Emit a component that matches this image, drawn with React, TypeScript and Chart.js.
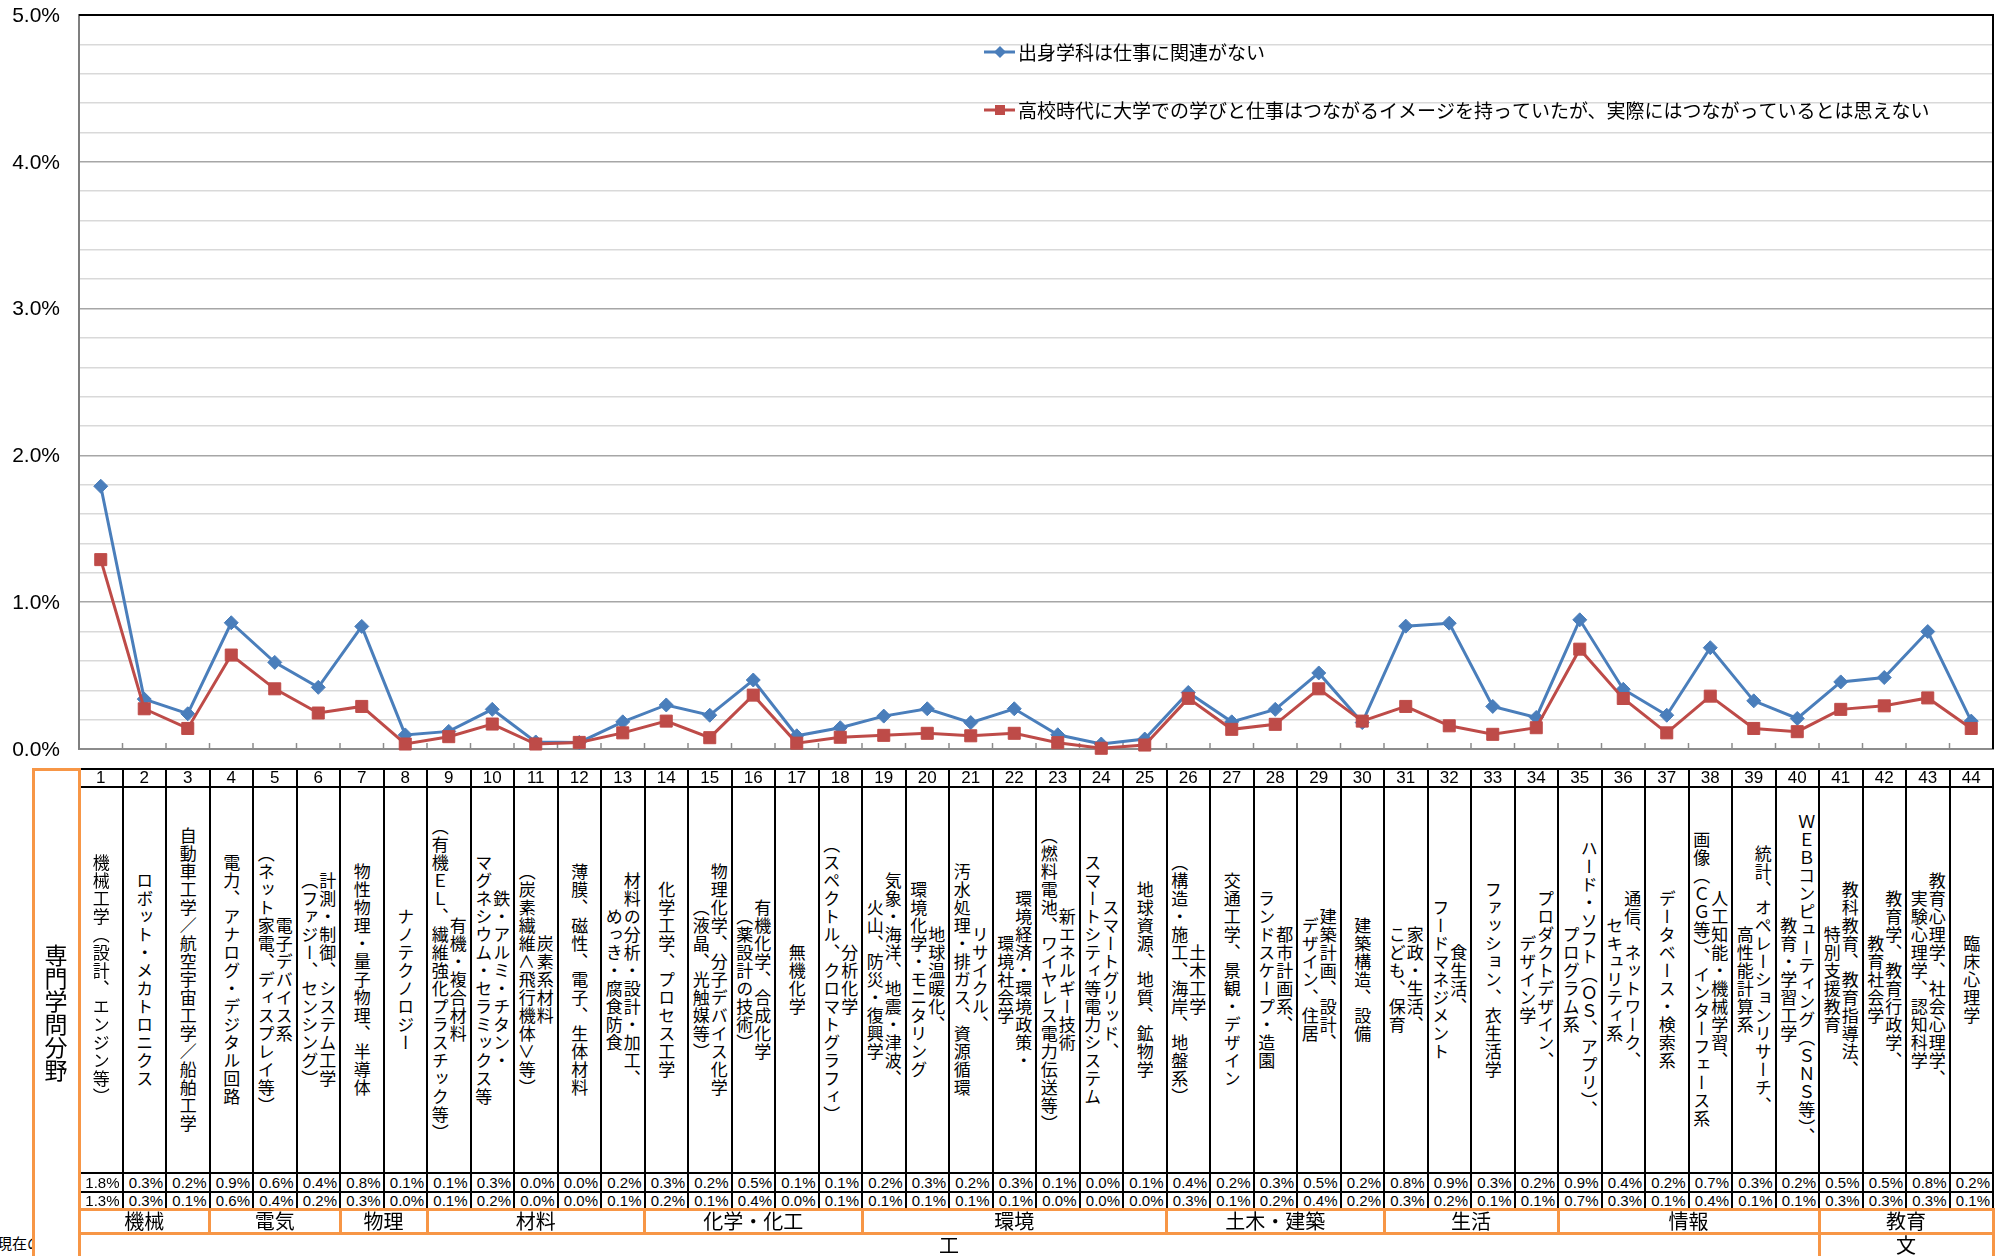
import React, { useEffect, useRef } from 'react';
import { Chart, registerables } from 'chart.js';

Chart.register(...registerables);

// ---------------- DATA ----------------
const categories = [
  '1', '2', '3', '4', '5', '6', '7', '8', '9', '10', '11', '12', '13', '14', '15', '16', '17', '18', '19', '20', '21', '22',
  '23', '24', '25', '26', '27', '28', '29', '30', '31', '32', '33', '34', '35', '36', '37', '38', '39', '40', '41', '42', '43', '44',
];

const fieldLabels = [
  '機械工学（設計、エンジン等）',
  'ロボット・メカトロニクス',
  '自動車工学／航空宇宙工学／船舶工学',
  '電力、アナログ・デジタル回路',
  '電子デバイス系\n（ネット家電、ディスプレイ等）',
  '計測・制御、システム工学\n（ファジー、センシング）',
  '物性物理・量子物理、半導体',
  'ナノテクノロジー',
  '有機・複合材料\n（有機ＥＬ、繊維強化プラスチック等）',
  '鉄・アルミ・チタン・\nマグネシウム・セラミックス等',
  '炭素系材料\n（炭素繊維＜飛行機体＞等）',
  '薄膜、磁性、電子、生体材料',
  '材料の分析・設計・加工、\nめっき・腐食防食',
  '化学工学、プロセス工学',
  '物理化学、分子デバイス化学\n（液晶、光触媒等）',
  '有機化学、合成化学\n（薬設計の技術）',
  '無機化学',
  '分析化学\n（スペクトル、クロマトグラフィ）',
  '気象・海洋、地震・津波、\n火山、防災・復興学',
  '地球温暖化、\n環境化学・モニタリング',
  'リサイクル、\n汚水処理・排ガス、資源循環',
  '環境経済・環境政策・\n環境社会学',
  '新エネルギー技術\n（燃料電池、ワイヤレス電力伝送等）',
  'スマートグリッド、\nスマートシティ等電力システム',
  '地球資源、地質、鉱物学',
  '土木工学\n（構造・施工、海岸、地盤系）',
  '交通工学、景観・デザイン',
  '都市計画系、\nランドスケープ・造園',
  '建築計画、設計、\nデザイン、住居',
  '建築構造、設備',
  '家政・生活、\nこども、保育',
  '食生活、\nフードマネジメント',
  'ファッション、衣生活学',
  'プロダクトデザイン、\nデザイン学',
  'ハード・ソフト（ＯＳ、アプリ）、\nプログラム系',
  '通信、ネットワーク、\nセキュリティ系',
  'データベース・検索系',
  '人工知能・機械学習、\n画像（ＣＧ等）、インターフェース系',
  '統計、オペレーションリサーチ、\n高性能計算系',
  'ＷＥＢコンピューティング（ＳＮＳ等）、\n教育・学習工学',
  '教科教育、教育指導法、\n特別支援教育',
  '教育学、教育行政学、\n教育社会学',
  '教育心理学、社会心理学、\n実験心理学、認知科学',
  '臨床心理学',
];

// 出身学科は仕事に関連がない (%)
const seriesNoRelation = [
  1.79, 0.34, 0.24, 0.86, 0.59, 0.42, 0.835, 0.096, 0.12, 0.27, 0.048, 0.045, 0.185, 0.30, 0.23, 0.47, 0.09, 0.145, 0.224, 0.274, 0.18, 0.274,
  0.097, 0.034, 0.068, 0.385, 0.185, 0.27, 0.518, 0.18, 0.837, 0.857, 0.29, 0.215, 0.88, 0.407, 0.23, 0.69, 0.328, 0.208, 0.457, 0.487, 0.80, 0.19,
];

// 高校時代に…実際にはつながっているとは思えない (%)
const seriesNoLink = [
  1.29, 0.274, 0.14, 0.64, 0.41, 0.245, 0.29, 0.034, 0.084, 0.17, 0.034, 0.045, 0.11, 0.19, 0.077, 0.367, 0.04, 0.08, 0.093, 0.107, 0.09, 0.107,
  0.043, 0.005, 0.027, 0.345, 0.134, 0.168, 0.41, 0.19, 0.29, 0.158, 0.10, 0.145, 0.68, 0.344, 0.11, 0.36, 0.14, 0.118, 0.27, 0.294, 0.348, 0.14,
];

const legendLabels = [
  '出身学科は仕事に関連がない',
  '高校時代に大学での学びと仕事はつながるイメージを持っていたが、実際にはつながっているとは思えない',
];

const groupLabels = ['機械', '電気', '物理', '材料', '化学・化工', '環境', '土木・建築', '生活', '情報', '教育'];
const groupSpans = [3, 3, 2, 5, 5, 7, 5, 4, 6, 4];
const facultyLabels = ['工', '文'];
const facultySpans = [40, 4];

const yMin = 0;
const yMax = 5;
const yStep = 0.2;
const yLabelValues = [0, 1, 2, 3, 4, 5];

// ---------------- STYLE / LAYOUT ----------------
const BLUE = '#4A7EBB';
const RED = '#BE4B48';
const ORANGE = '#F79646';
const W = 2003;
const H = 1256;
const CANVAS_H = 770;
const PLOT_LEFT = 79;
const PLOT_RIGHT = 1993;
const PLOT_TOP = 15;
const PLOT_BOTTOM = 749;
const COL_W = (PLOT_RIGHT - PLOT_LEFT) / categories.length;

const ROW_TOP = 769;
const NUM_BOTTOM = 787;
const TEXT_BOTTOM = 1173;
const BLUE_BOTTOM = 1192;
const RED_BOTTOM = 1209;
const GROUP_BOTTOM = 1233;

const CJK = '"Noto Sans CJK JP", "Noto Sans CJK SC", sans-serif';
const LATIN = '"Liberation Sans", Arial, sans-serif';

const isMajor = (v: number) => Math.abs(v - Math.round(v)) < 1e-6;

const framePlugin = {
  id: 'frameAndTicks',
  beforeDatasetsDraw(chart: any) {
    const { ctx, chartArea } = chart;
    const xs = chart.scales.x;
    const ys = chart.scales.y;
    ctx.save();
    // inner tick marks on category axis
    ctx.strokeStyle = '#8c8c8c';
    ctx.lineWidth = 1.5;
    for (let i = 1; i < categories.length; i++) {
      const x = (xs.getPixelForValue(i - 1) + xs.getPixelForValue(i)) / 2;
      ctx.beginPath();
      ctx.moveTo(x, chartArea.bottom - 6);
      ctx.lineTo(x, chartArea.bottom);
      ctx.stroke();
    }
    // top and right border
    ctx.strokeStyle = '#000';
    ctx.lineWidth = 2;
    ctx.beginPath();
    ctx.moveTo(chartArea.left, chartArea.top);
    ctx.lineTo(chartArea.right, chartArea.top);
    ctx.lineTo(chartArea.right, chartArea.bottom);
    ctx.stroke();
    // y labels
    ctx.fillStyle = '#000';
    ctx.font = `21px ${LATIN}`;
    ctx.textAlign = 'right';
    ctx.textBaseline = 'middle';
    yLabelValues.forEach((v) => {
      ctx.fillText(v.toFixed(1) + '%', chartArea.left - 19, ys.getPixelForValue(v) + 1);
    });
    ctx.restore();
  },
  afterDraw(chart: any) {
    const { ctx } = chart;
    const items = [
      { y: 52, color: BLUE, style: 'diamond', label: legendLabels[0] },
      { y: 110, color: RED, style: 'square', label: legendLabels[1] },
    ];
    ctx.save();
    items.forEach((it) => {
      ctx.strokeStyle = it.color;
      ctx.fillStyle = it.color;
      ctx.lineWidth = 3;
      ctx.beginPath();
      ctx.moveTo(984, it.y);
      ctx.lineTo(1015, it.y);
      ctx.stroke();
      ctx.beginPath();
      if (it.style === 'diamond') {
        ctx.moveTo(1000, it.y - 6);
        ctx.lineTo(1006, it.y);
        ctx.lineTo(1000, it.y + 6);
        ctx.lineTo(994, it.y);
        ctx.closePath();
      } else {
        ctx.rect(995, it.y - 5, 10, 10);
      }
      ctx.fill();
      ctx.fillStyle = '#000';
      ctx.font = `19px ${CJK}`;
      ctx.textBaseline = 'middle';
      ctx.textAlign = 'left';
      ctx.fillText(it.label, 1018, it.y + 1);
    });
    ctx.restore();
  },
};

function HLine({ x1, x2, y, color, t }: { x1: number; x2: number; y: number; color: string; t: number }) {
  return (
    <div style={{ position: 'absolute', left: x1 - t / 2, top: y - t / 2, width: x2 - x1 + t, height: t, background: color }} />
  );
}
function VLine({ x, y1, y2, color, t }: { x: number; y1: number; y2: number; color: string; t: number }) {
  return (
    <div style={{ position: 'absolute', left: x - t / 2, top: y1 - t / 2, width: t, height: y2 - y1 + t, background: color }} />
  );
}

export default function App() {
  const canvasRef = useRef<HTMLCanvasElement | null>(null);

  useEffect(() => {
    if (!canvasRef.current) return;
    const chart = new Chart(canvasRef.current, {
      type: 'line',
      data: {
        labels: categories,
        datasets: [
          {
            label: legendLabels[0],
            data: seriesNoRelation,
            borderColor: BLUE,
            backgroundColor: BLUE,
            borderWidth: 3,
            pointStyle: 'rectRot',
            pointRadius: 7,
            pointBorderWidth: 1,
            pointBackgroundColor: BLUE,
            pointBorderColor: BLUE,
            tension: 0,
            order: 2,
            clip: false,
          } as any,
          {
            label: legendLabels[1],
            data: seriesNoLink,
            borderColor: RED,
            backgroundColor: RED,
            borderWidth: 3,
            pointStyle: 'rect',
            pointRadius: 8.5,
            pointBorderWidth: 1,
            pointBackgroundColor: RED,
            pointBorderColor: RED,
            tension: 0,
            order: 1,
            clip: false,
          } as any,
        ],
      },
      options: {
        responsive: false,
        animation: false,
        devicePixelRatio: 1,
        layout: { padding: { left: 0, right: W - PLOT_RIGHT, top: PLOT_TOP, bottom: 0 } },
        plugins: { legend: { display: false }, tooltip: { enabled: false } },
        scales: {
          x: {
            type: 'category',
            offset: true,
            grid: { display: false, drawTicks: false },
            ticks: { display: false },
            border: { display: true, color: '#8c8c8c', width: 2 },
            afterFit: (s: any) => {
              s.height = CANVAS_H - PLOT_BOTTOM;
            },
          },
          y: {
            min: yMin,
            max: yMax,
            ticks: {
              stepSize: yStep,
              autoSkip: false,
              display: false,
            },
            grid: {
              drawTicks: false,
              lineWidth: 1.5,
              color: (c: any) => (c.tick && isMajor(c.tick.value) ? '#a6a6a6' : '#d9d9d9'),
            },
            border: { display: true, color: '#7f7f7f', width: 2 },
            afterFit: (s: any) => {
              s.width = PLOT_LEFT;
            },
          },
        },
      } as any,
      plugins: [framePlugin],
    });
    return () => chart.destroy();
  }, []);

  const groupBounds: number[] = [0];
  groupSpans.forEach((s) => groupBounds.push(groupBounds[groupBounds.length - 1] + s));
  const facultyBounds: number[] = [0];
  facultySpans.forEach((s) => facultyBounds.push(facultyBounds[facultyBounds.length - 1] + s));
  const colX = (k: number) => PLOT_LEFT + k * COL_W;

  return (
    <div style={{ position: 'absolute', left: 0, top: 0, width: W, height: H, overflow: 'hidden', background: '#fff' }}>
      <canvas
        ref={canvasRef}
        width={W}
        height={CANVAS_H}
        style={{ position: 'absolute', left: 0, top: 0, width: W, height: CANVAS_H, display: 'block' }}
      />

      {/* cut-off text at left */}
      <div style={{ position: 'absolute', left: 0, top: 1232, width: 33, height: 22, overflow: 'hidden' }}>
        <div style={{ position: 'absolute', left: -3, top: 0, whiteSpace: 'nowrap', font: `15px ${CJK}`, color: '#000' }}>現在の</div>
      </div>

      {/* header label 専門学問分野 */}
      <div
        style={{
          position: 'absolute',
          left: 33,
          top: ROW_TOP,
          width: PLOT_LEFT - 33,
          height: H - ROW_TOP,
          display: 'flex',
          alignItems: 'center',
          justifyContent: 'center',
        }}
      >
        <div style={{ writingMode: 'vertical-rl', font: `23px ${CJK}`, color: '#000', lineHeight: '24px' }}>専門学問分野</div>
      </div>

      {/* number row */}
      {categories.map((c, i) => (
        <div
          key={'n' + i}
          style={{
            position: 'absolute',
            left: colX(i),
            top: ROW_TOP,
            width: COL_W,
            height: NUM_BOTTOM - ROW_TOP,
            textAlign: 'center',
            font: `17px ${LATIN}`,
            lineHeight: NUM_BOTTOM - ROW_TOP + 'px',
            color: '#000',
          }}
        >
          {c}
        </div>
      ))}

      {/* field text row */}
      {fieldLabels.map((t, i) => (
        <div
          key={'t' + i}
          style={{
            position: 'absolute',
            left: colX(i),
            top: NUM_BOTTOM,
            width: COL_W,
            height: TEXT_BOTTOM - NUM_BOTTOM,
            display: 'flex',
            alignItems: 'center',
            justifyContent: 'center',
          }}
        >
          <div
            style={{
              writingMode: 'vertical-rl',
              textAlign: 'center',
              whiteSpace: 'pre',
              font: `17px ${CJK}`,
              lineHeight: '18px',
              letterSpacing: '1px',
              color: '#000',
              height: TEXT_BOTTOM - NUM_BOTTOM - 4,
            }}
          >
            {t}
          </div>
        </div>
      ))}

      {/* value rows */}
      {[seriesNoRelation, seriesNoLink].map((arr, r) =>
        arr.map((v, i) => (
          <div
            key={'v' + r + '-' + i}
            style={{
              position: 'absolute',
              left: colX(i),
              top: r === 0 ? TEXT_BOTTOM : BLUE_BOTTOM,
              width: COL_W - 3,
              height: r === 0 ? BLUE_BOTTOM - TEXT_BOTTOM : RED_BOTTOM - BLUE_BOTTOM,
              textAlign: 'right',
              font: `15px ${LATIN}`,
              lineHeight: (r === 0 ? BLUE_BOTTOM - TEXT_BOTTOM : RED_BOTTOM - BLUE_BOTTOM) + 'px',
              color: '#000',
              whiteSpace: 'nowrap',
            }}
          >
            {v.toFixed(1) + '%'}
          </div>
        ))
      )}

      {/* group row labels */}
      {groupLabels.map((g, i) => (
        <div
          key={'g' + i}
          style={{
            position: 'absolute',
            left: colX(groupBounds[i]),
            top: RED_BOTTOM,
            width: colX(groupBounds[i + 1]) - colX(groupBounds[i]),
            height: GROUP_BOTTOM - RED_BOTTOM,
            textAlign: 'center',
            font: `20px ${CJK}`,
            lineHeight: GROUP_BOTTOM - RED_BOTTOM + 'px',
            color: '#000',
          }}
        >
          {g}
        </div>
      ))}

      {/* faculty row labels */}
      {facultyLabels.map((f, i) => (
        <div
          key={'f' + i}
          style={{
            position: 'absolute',
            left: colX(facultyBounds[i]),
            top: GROUP_BOTTOM,
            width: colX(facultyBounds[i + 1]) - colX(facultyBounds[i]),
            height: 24,
            textAlign: 'center',
            font: `20px ${CJK}`,
            lineHeight: '24px',
            color: '#000',
          }}
        >
          {f}
        </div>
      ))}

      {/* black table lines */}
      <HLine x1={PLOT_LEFT} x2={PLOT_RIGHT} y={ROW_TOP} color="#000" t={2.5} />
      <HLine x1={PLOT_LEFT} x2={PLOT_RIGHT} y={NUM_BOTTOM} color="#000" t={2} />
      <HLine x1={PLOT_LEFT} x2={PLOT_RIGHT} y={TEXT_BOTTOM} color="#000" t={2} />
      <HLine x1={PLOT_LEFT} x2={PLOT_RIGHT} y={BLUE_BOTTOM} color="#000" t={2} />
      {categories.map((_, i) => (
        <VLine key={'cl' + i} x={colX(i + 1)} y1={ROW_TOP} y2={RED_BOTTOM} color="#000" t={2} />
      ))}

      {/* orange lines */}
      <HLine x1={33} x2={PLOT_LEFT} y={ROW_TOP} color={ORANGE} t={3} />
      <VLine x={33} y1={ROW_TOP} y2={H + 5} color={ORANGE} t={3} />
      <VLine x={PLOT_LEFT} y1={ROW_TOP} y2={H + 5} color={ORANGE} t={3} />
      <HLine x1={PLOT_LEFT} x2={PLOT_RIGHT} y={RED_BOTTOM} color={ORANGE} t={3} />
      <HLine x1={PLOT_LEFT} x2={PLOT_RIGHT} y={GROUP_BOTTOM} color={ORANGE} t={3} />
      {groupBounds.slice(1).map((k, i) => (
        <VLine key={'gb' + i} x={colX(k)} y1={RED_BOTTOM} y2={GROUP_BOTTOM} color={ORANGE} t={3} />
      ))}
      {facultyBounds.slice(1).map((k, i) => (
        <VLine key={'fb' + i} x={colX(k)} y1={GROUP_BOTTOM} y2={H + 5} color={ORANGE} t={3} />
      ))}
    </div>
  );
}
